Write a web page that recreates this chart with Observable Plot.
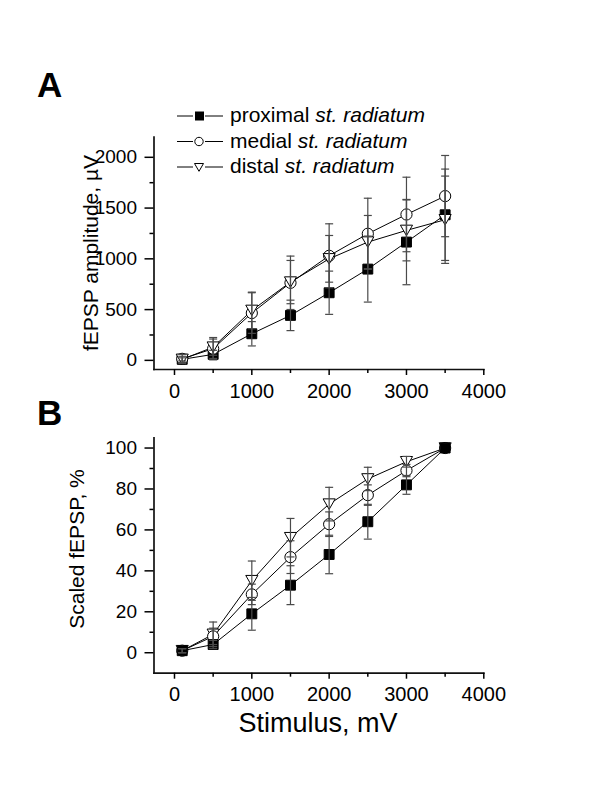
<!DOCTYPE html>
<html>
<head>
<meta charset="utf-8">
<script src="https://cdn.jsdelivr.net/npm/d3@7"></script>
<script src="https://cdn.jsdelivr.net/npm/@observablehq/plot@0.6"></script>
<style>
  html, body { margin: 0; padding: 0; background: #fff; }
  #fig { position: relative; width: 600px; height: 799px; background: #fff; overflow: hidden; }
  #fig svg.plotpanel { position: absolute; left: 0; }
  #overlay { position: absolute; left: 0; top: 0; pointer-events: none; }
  #overlay text { font-family: "Liberation Sans", Arial, sans-serif; fill: #000; }
</style>
</head>
<body>
<div id="fig">
  <svg id="overlay" width="600" height="799" viewBox="0 0 600 799">
    <text x="37" y="97" font-size="35" font-weight="bold">A</text>
    <text x="37" y="425" font-size="35" font-weight="bold">B</text>
    <text transform="translate(98,253) rotate(-90)" text-anchor="middle" font-size="21">fEPSP amplitude, µV</text>
    <text transform="translate(84,549) rotate(-90)" text-anchor="middle" font-size="21">Scaled fEPSP, %</text>
    <text x="318" y="732" text-anchor="middle" font-size="27">Stimulus, mV</text>
    <g id="legend"></g>
  </svg>
</div>
<script>
// ---- data ----
const stimulus = [100, 500, 1000, 1500, 2000, 2500, 3000, 3500];
const seriesNames = ["proximal", "medial", "distal"];

// Panel A: fEPSP amplitude, µV (mean and error)
const ampProximal    = [10, 59, 262, 443, 666, 899, 1165, 1434];
const ampProximalErr = [15, 40, 120, 150, 213, 325, 420, 450];
const ampMedial      = [15, 115, 466, 764, 1030, 1247, 1437, 1618];
const ampMedialErr   = [45, 110, 200, 263, 315, 350, 367, 400];
const ampDistal      = [10, 130, 492, 771, 1000, 1165, 1280, 1385];
const ampDistalErr   = [30, 80, 180, 213, 230, 262, 300, 430];

// Panel B: scaled fEPSP, %
const scProximal    = [1, 4, 19, 33, 48, 64, 82, 100];
const scProximalErr = [1, 2, 8, 9.5, 9.4, 8.5, 4.6, 0];
const scMedial      = [1, 8, 28.5, 46.7, 62.8, 77, 89, 100];
const scMedialErr   = [1, 4, 5, 8, 6, 5, 3, 0];
const scDistal      = [1, 9, 35.2, 56.2, 72.6, 84.9, 93.3, 100];
const scDistalErr   = [1, 6, 9.6, 9.4, 8.2, 5.7, 2.6, 0];

// ticks
const xTicks = [0, 1000, 2000, 3000, 4000];
const xMinor = [500, 1500, 2500, 3500];
const ampTicks = [0, 500, 1000, 1500, 2000];
const ampMinor = [250, 750, 1250, 1750];
const scTicks = [0, 20, 40, 60, 80, 100];
const scMinor = [10, 30, 50, 70, 90];

// legend labels
const legendRegular = ["proximal ", "medial ", "distal "];
const legendItalic = "st. radiatum";

// ---- helpers ----
function rows(series, values, errs) {
  return stimulus.map((s, i) => ({stim: s, value: values[i], err: errs[i], lo: values[i] - errs[i], hi: values[i] + errs[i], series}));
}
const capSymbol = {draw(ctx, size) { const h = Math.sqrt(size / Math.PI); ctx.moveTo(-h, 0); ctx.lineTo(h, 0); }};
const triDown = {draw(ctx, size) {
  const s = Math.sqrt(size * 4 / Math.sqrt(3)); const h = s * Math.sqrt(3) / 2;
  ctx.moveTo(-s / 2, -h / 2); ctx.lineTo(s / 2, -h / 2); ctx.lineTo(0, h / 2); ctx.closePath();
}};
const symbolStyle = {
  proximal: {symbol: "square", r: 5.6, fill: "black", stroke: "black", strokeWidth: 1},
  medial: {symbol: "circle", r: 5.6, fill: "white", stroke: "black", strokeWidth: 1},
  distal: {symbol: triDown, r: 4.5, fill: "white", stroke: "black", strokeWidth: 1}
};
const font = "'Liberation Sans', Arial, sans-serif";

function panel({data, order, yDomain, yTicks, yMinor, height, marginTop, marginBottom}) {
  const all = data.flat();
  const withErr = all.filter(d => d.err > 0);
  const marks = [
    Plot.frame({anchor: "left", stroke: "#111", strokeWidth: 1.7}),
    Plot.frame({anchor: "bottom", stroke: "#111", strokeWidth: 1.7}),
    Plot.axisX({ticks: xTicks, tickSize: 6, tickFormat: () => "", label: null, strokeWidth: 1.5}),
    Plot.axisX({ticks: xMinor, tickSize: 4, tickFormat: () => "", label: null, strokeWidth: 1.5}),
    Plot.axisY({ticks: yTicks, tickSize: 9, tickFormat: () => "", label: null, strokeWidth: 1.5}),
    Plot.axisY({ticks: yMinor, tickSize: 4, tickFormat: () => "", label: null, strokeWidth: 1.5}),
    // tick labels
    Plot.text(xTicks, {x: d => d, text: d => String(d), frameAnchor: "bottom", lineAnchor: "top", dy: 14, fontSize: 20, fill: "black"}),
    Plot.text(yTicks, {y: d => d, text: d => String(d), frameAnchor: "left", textAnchor: "end", lineAnchor: "middle", dx: -17, fontSize: 19, fill: "black"}),
    Plot.line(all, {x: "stim", y: "value", z: "series", stroke: "black", strokeWidth: 1})
  ];
  for (const name of order) {
    const d = all.filter(r => r.series === name);
    marks.push(Plot.dot(d, {x: "stim", y: "value", ...symbolStyle[name]}));
  }
  marks.push(
    Plot.ruleX(withErr, {x: "stim", y1: "lo", y2: "hi", stroke: "#4a4a4a", strokeWidth: 1.2}),
    Plot.dot(withErr, {x: "stim", y: "lo", symbol: capSymbol, r: 4, fill: "none", stroke: "#4a4a4a", strokeWidth: 1.2}),
    Plot.dot(withErr, {x: "stim", y: "hi", symbol: capSymbol, r: 4, fill: "none", stroke: "#4a4a4a", strokeWidth: 1.2})
  );
  return Plot.plot({
    width: 600, height, marginLeft: 153.5, marginRight: 116.7, marginTop, marginBottom,
    x: {domain: [-265, 4000]},
    y: {domain: yDomain},
    style: {fontFamily: font, fontSize: "20px", color: "black", background: "transparent", overflow: "visible"},
    marks
  });
}

const fig = document.getElementById("fig");

const plotA = panel({
  data: [rows("proximal", ampProximal, ampProximalErr), rows("medial", ampMedial, ampMedialErr), rows("distal", ampDistal, ampDistalErr)],
  order: ["proximal", "medial", "distal"],
  yDomain: [-90, 2200], yTicks: ampTicks, yMinor: ampMinor,
  height: 400, marginTop: 136.5, marginBottom: 31
});
plotA.classList.add("plotpanel");
plotA.style.top = "0px";
fig.insertBefore(plotA, fig.firstChild);

const plotB = panel({
  data: [rows("proximal", scProximal, scProximalErr), rows("medial", scMedial, scMedialErr), rows("distal", scDistal, scDistalErr)],
  order: ["distal", "medial", "proximal"],
  yDomain: [-10, 105], yTicks: scTicks, yMinor: scMinor,
  height: 399, marginTop: 37.3, marginBottom: 126.3
});
plotB.classList.add("plotpanel");
plotB.style.top = "400px";
fig.insertBefore(plotB, plotA.nextSibling);

// ---- legend (overlay) ----
const ns = "http://www.w3.org/2000/svg";
const lg = document.getElementById("legend");
const baselines = [122, 147.5, 173];
seriesNames.forEach((name, i) => {
  const by = baselines[i], cy = by - 6;
  const mk = (tag, attrs) => { const e = document.createElementNS(ns, tag); for (const k in attrs) e.setAttribute(k, attrs[k]); lg.appendChild(e); return e; };
  mk("line", {x1: 177, x2: 193, y1: cy, y2: cy, stroke: "#000", "stroke-width": 1});
  mk("line", {x1: 205, x2: 223, y1: cy, y2: cy, stroke: "#000", "stroke-width": 1});
  if (name === "proximal") mk("rect", {x: 195, y: cy - 4.5, width: 9, height: 9, fill: "#000"});
  if (name === "medial") mk("circle", {cx: 199, cy, r: 4.2, fill: "#fff", stroke: "#000", "stroke-width": 1});
  if (name === "distal") mk("path", {d: `M${194.5},${cy - 3.5}L${203.5},${cy - 3.5}L${199},${cy + 4.3}Z`, fill: "#fff", stroke: "#000", "stroke-width": 1});
  const t = mk("text", {x: 230, y: by, "font-size": 21});
  t.appendChild(document.createTextNode(legendRegular[i]));
  const ts = document.createElementNS(ns, "tspan");
  ts.setAttribute("font-style", "italic");
  ts.textContent = legendItalic;
  t.appendChild(ts);
});
</script>
</body>
</html>
